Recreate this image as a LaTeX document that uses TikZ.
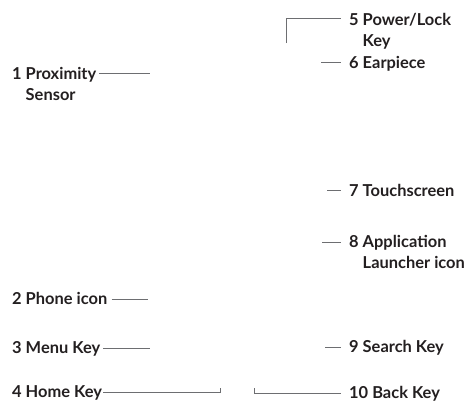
\documentclass[tikz,border=0pt]{standalone}
\usepackage{fontspec}
\setmainfont{Lato}
\usepackage{xcolor}
\usetikzlibrary{calc}

\definecolor{labeltext}{HTML}{231F20}
\definecolor{leadline}{HTML}{6D6E71}

\begin{document}
\begin{tikzpicture}[x=1bp,y=-1bp,
    lbl/.style={anchor=base west,inner sep=0pt,text=labeltext,
        font=\fontsize{16.5}{22}\selectfont\bfseries},
    lead/.style={draw=leadline,line width=0.9bp}]
    \useasboundingbox (0,0) rectangle (472,405);

    % Left side labels
    \node[lbl] (prox) at (12,79) {\begin{tabular}[t]{@{}l@{}}1 Proximity\\\phantom{1 }Sensor\end{tabular}};
    \node[lbl] (phone) at (12,304) {2 Phone icon};
    \node[lbl] (menu) at (12,353) {3 Menu Key};
    \node[lbl] (home) at (12,397) {4 Home Key};

    % Right side labels
    \node[lbl] (power) at (349,25) {\begin{tabular}[t]{@{}l@{}}5 Power/Lock\\\phantom{5 }Key\end{tabular}};
    \node[lbl] (ear) at (349,68) {6 Earpiece};
    \node[lbl] (touch) at (349,196) {7 Touchscreen};
    \node[lbl] (app) at (349,247) {\begin{tabular}[t]{@{}l@{}}8 Application\\\phantom{8 }Launcher icon\end{tabular}};
    \node[lbl] (search) at (349,352) {9 Search Key};
    \node[lbl] (back) at (349,398) {10 Back Key};

    % Free ends of the leader lines
    \coordinate (prox-end) at (150,73);
    \coordinate (phone-end) at (148,299);
    \coordinate (menu-end) at (150,348);
    \coordinate (home-end) at (220,388);
    \coordinate (power-end) at (286,43);
    \coordinate (ear-end) at (321,62);
    \coordinate (touch-end) at (327,190);
    \coordinate (app-end) at (322,242);
    \coordinate (search-end) at (325,347);
    \coordinate (back-end) at (254,388);

    % Leader lines
    \draw[lead] ($(prox.base east)+(3,-6)$) -- (prox-end);
    \draw[lead] ($(phone.base east)+(4,-5)$) -- (phone-end);
    \draw[lead] ($(menu.base east)+(3,-5)$) -- (menu-end);
    \draw[lead] ($(home.base east)+(1,-5)$) -| (home-end);
    \draw[lead] (power-end) |- ($(power.base west)+(-8,-7)$);
    \draw[lead] (ear-end) -- ($(ear.base west)+(-8,-6)$);
    \draw[lead] (touch-end) -- ($(touch.base west)+(-8,-6)$);
    \draw[lead] (app-end) -- ($(app.base west)+(-8,-5)$);
    \draw[lead] (search-end) -- ($(search.base west)+(-8,-5)$);
    \draw[lead] (back-end) |- ($(back.base west)+(-8,-5)$);
\end{tikzpicture}
\end{document}
